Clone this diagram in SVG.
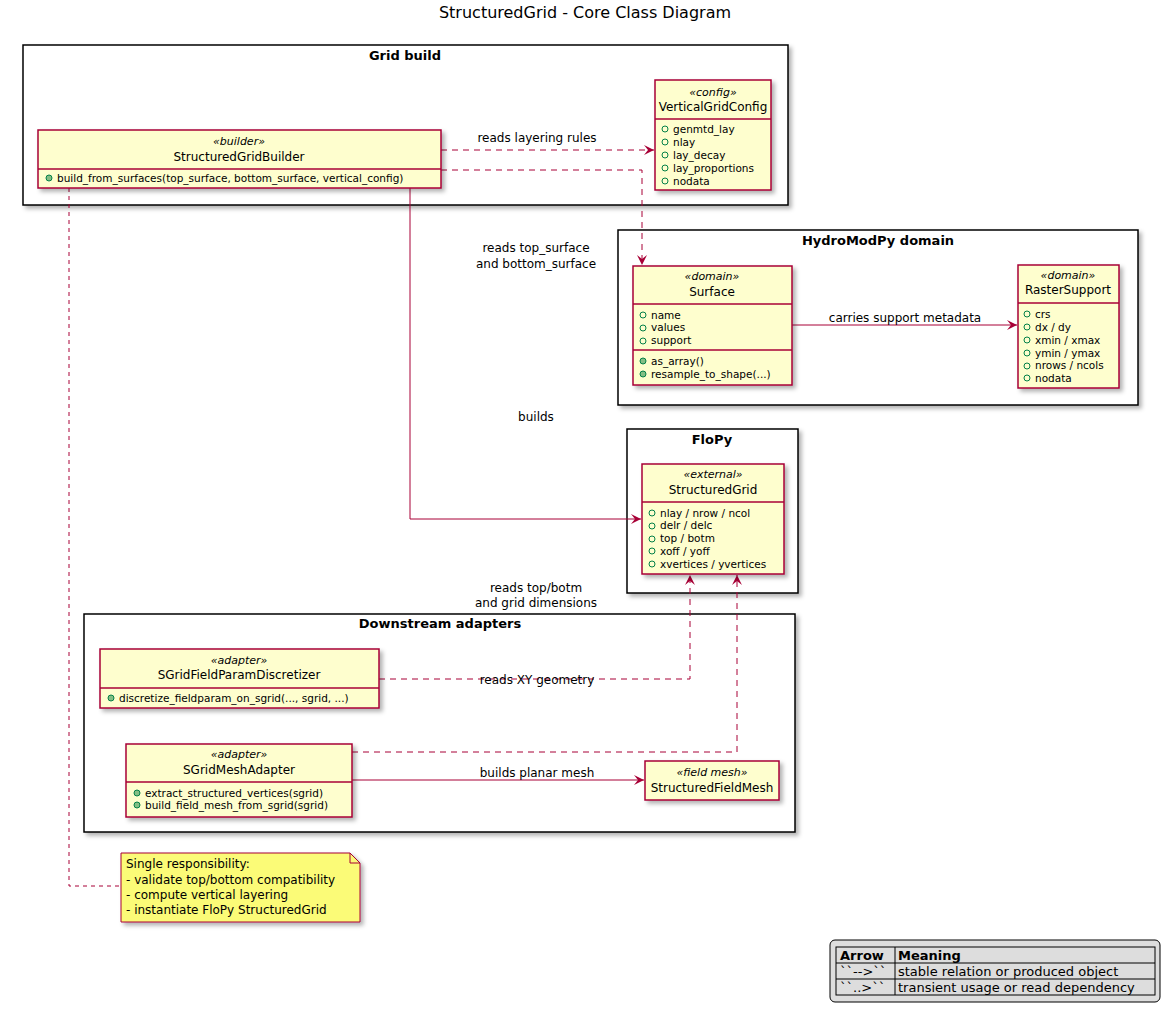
<svg xmlns="http://www.w3.org/2000/svg" width="1171" height="1013" viewBox="0 0 1171 1013">
<defs>
<filter id="sh" x="-10%" y="-10%" width="130%" height="130%"><feDropShadow dx="3" dy="3" stdDeviation="2" flood-color="#000" flood-opacity="0.3"/></filter>
<marker id="ah" viewBox="0 0 12 12" refX="11" refY="6" markerWidth="12" markerHeight="12" markerUnits="userSpaceOnUse" orient="auto"><path d="M1,1 L11,6 L1,11 L5,6 Z" fill="#A80036"/></marker>
</defs>
<style>
text{font-family:"DejaVu Sans",sans-serif;fill:#000}
.pkg{fill:#fff;stroke:#000;stroke-width:1.5;filter:url(#sh)}
.pt{font-size:13px;font-weight:bold;text-anchor:middle}
.cls{fill:#FEFECE;stroke:#A80036;stroke-width:1.5;filter:url(#sh)}
.dv{stroke:#A80036;stroke-width:1.5}
.st{font-size:11px;font-style:italic;text-anchor:middle}
.nm{font-size:12px;text-anchor:middle}
.mb{font-size:10.5px}
.lb{font-size:12px;text-anchor:middle}
.c{fill:none;stroke:#A80036;stroke-width:1}
.d{stroke-dasharray:6,5}
.o{fill:none;stroke:#038048;stroke-width:1}
.f{fill:#84BE84;stroke:#038048;stroke-width:1}
</style>
<text x="585" y="18" font-size="16" text-anchor="middle">StructuredGrid - Core Class Diagram</text>

<g id="pkg-gridbuild"><rect class="pkg" x="23" y="45" width="765" height="160"/><text class="pt" x="405" y="60">Grid build</text></g>
<g id="pkg-hydro"><rect class="pkg" x="618" y="230" width="520" height="175"/><text class="pt" x="878" y="245">HydroModPy domain</text></g>
<g id="pkg-flopy"><rect class="pkg" x="627" y="429" width="171" height="164"/><text class="pt" x="712" y="444">FloPy</text></g>
<g id="pkg-down"><rect class="pkg" x="84" y="614" width="711" height="218"/><text class="pt" x="440" y="628">Downstream adapters</text></g>

<g id="connectors">
<path class="c d" d="M441,150 H654" marker-end="url(#ah)"/>
<text class="lb" x="537" y="142">reads layering rules</text>
<path class="c d" d="M441,170 H642 V265" marker-end="url(#ah)"/>
<text class="lb" x="536" y="252">reads top_surface</text>
<text class="lb" x="536" y="268">and bottom_surface</text>
<path class="c" d="M792,325 H1017" marker-end="url(#ah)"/>
<text class="lb" x="905" y="322">carries support metadata</text>
<path class="c" d="M410,188 V519 H641" marker-end="url(#ah)"/>
<text class="lb" x="536" y="421">builds</text>
<path class="c d" d="M379,679 H690 V575" marker-end="url(#ah)"/>
<text class="lb" x="536" y="592">reads top/botm</text>
<text class="lb" x="536" y="607">and grid dimensions</text>
<text class="lb" x="537" y="684">reads XY geometry</text>
<path class="c d" d="M352,752 H737 V575" marker-end="url(#ah)"/>
<path class="c" d="M352,780 H644" marker-end="url(#ah)"/>
<text class="lb" x="537" y="777">builds planar mesh</text>
<path class="c d" d="M69,188 V886 H121" style="stroke:#A80036;stroke-dasharray:4,4"/>
</g>

<g id="StructuredGridBuilder">
<rect class="cls" x="38" y="130" width="403" height="58"/>
<line class="dv" x1="38" y1="169" x2="441" y2="169"/>
<text class="st" x="239" y="145">«builder»</text>
<text class="nm" x="239" y="161">StructuredGridBuilder</text>
<circle class="f" cx="49" cy="178" r="3"/><text class="mb" x="57" y="182">build_from_surfaces(top_surface, bottom_surface, vertical_config)</text>
</g>

<g id="VerticalGridConfig">
<rect class="cls" x="655" y="80" width="116" height="110"/>
<line class="dv" x1="655" y1="119" x2="771" y2="119"/>
<text class="st" x="713" y="96">«config»</text>
<text class="nm" x="713" y="111">VerticalGridConfig</text>
<circle class="o" cx="665" cy="129" r="3"/><text class="mb" x="673" y="133">genmtd_lay</text>
<circle class="o" cx="665" cy="142" r="3"/><text class="mb" x="673" y="146">nlay</text>
<circle class="o" cx="665" cy="155" r="3"/><text class="mb" x="673" y="159">lay_decay</text>
<circle class="o" cx="665" cy="168" r="3"/><text class="mb" x="673" y="172">lay_proportions</text>
<circle class="o" cx="665" cy="181" r="3"/><text class="mb" x="673" y="185">nodata</text>
</g>

<g id="Surface">
<rect class="cls" x="633" y="266" width="159" height="119"/>
<line class="dv" x1="633" y1="304" x2="792" y2="304"/>
<line class="dv" x1="633" y1="350" x2="792" y2="350"/>
<text class="st" x="712" y="280">«domain»</text>
<text class="nm" x="712" y="296">Surface</text>
<circle class="o" cx="643" cy="315" r="3"/><text class="mb" x="651" y="319">name</text>
<circle class="o" cx="643" cy="328" r="3"/><text class="mb" x="651" y="331">values</text>
<circle class="o" cx="643" cy="341" r="3"/><text class="mb" x="651" y="344">support</text>
<circle class="f" cx="643" cy="361" r="3"/><text class="mb" x="651" y="365">as_array()</text>
<circle class="f" cx="643" cy="374" r="3"/><text class="mb" x="651" y="378">resample_to_shape(...)</text>
</g>

<g id="RasterSupport">
<rect class="cls" x="1018" y="265" width="101" height="123"/>
<line class="dv" x1="1018" y1="303" x2="1119" y2="303"/>
<text class="st" x="1068" y="279">«domain»</text>
<text class="nm" x="1068" y="294">RasterSupport</text>
<circle class="o" cx="1007" cy="0" r="0"/>
<circle class="o" cx="1027" cy="314" r="3"/><text class="mb" x="1035" y="318">crs</text>
<circle class="o" cx="1027" cy="327" r="3"/><text class="mb" x="1035" y="331">dx / dy</text>
<circle class="o" cx="1027" cy="340" r="3"/><text class="mb" x="1035" y="344">xmin / xmax</text>
<circle class="o" cx="1027" cy="353" r="3"/><text class="mb" x="1035" y="357">ymin / ymax</text>
<circle class="o" cx="1027" cy="366" r="3"/><text class="mb" x="1035" y="369">nrows / ncols</text>
<circle class="o" cx="1027" cy="378" r="3"/><text class="mb" x="1035" y="382">nodata</text>
</g>

<g id="StructuredGrid">
<rect class="cls" x="642" y="464" width="142" height="110"/>
<line class="dv" x1="642" y1="502" x2="784" y2="502"/>
<text class="st" x="713" y="478">«external»</text>
<text class="nm" x="713" y="494">StructuredGrid</text>
<circle class="o" cx="652" cy="513" r="3"/><text class="mb" x="660" y="517">nlay / nrow / ncol</text>
<circle class="o" cx="652" cy="526" r="3"/><text class="mb" x="660" y="529">delr / delc</text>
<circle class="o" cx="652" cy="539" r="3"/><text class="mb" x="660" y="542">top / botm</text>
<circle class="o" cx="652" cy="551" r="3"/><text class="mb" x="660" y="555">xoff / yoff</text>
<circle class="o" cx="652" cy="564" r="3"/><text class="mb" x="660" y="568">xvertices / yvertices</text>
</g>

<g id="SGridFieldParamDiscretizer">
<rect class="cls" x="100" y="649" width="279" height="59"/>
<line class="dv" x1="100" y1="688" x2="379" y2="688"/>
<text class="st" x="239" y="664">«adapter»</text>
<text class="nm" x="239" y="679">SGridFieldParamDiscretizer</text>
<circle class="f" cx="111" cy="698" r="3"/><text class="mb" x="119" y="702">discretize_fieldparam_on_sgrid(..., sgrid, ...)</text>
</g>

<g id="SGridMeshAdapter">
<rect class="cls" x="126" y="744" width="226" height="73"/>
<line class="dv" x1="126" y1="782" x2="352" y2="782"/>
<text class="st" x="239" y="758">«adapter»</text>
<text class="nm" x="239" y="774">SGridMeshAdapter</text>
<circle class="f" cx="137" cy="793" r="3"/><text class="mb" x="145" y="797">extract_structured_vertices(sgrid)</text>
<circle class="f" cx="137" cy="805" r="3"/><text class="mb" x="145" y="809">build_field_mesh_from_sgrid(sgrid)</text>
</g>

<g id="StructuredFieldMesh">
<rect class="cls" x="645" y="761" width="134" height="39"/>
<text class="st" x="712" y="776">«field mesh»</text>
<text class="nm" x="712" y="792">StructuredFieldMesh</text>
</g>

<g id="note">
<path d="M121,853 H350 L360,863 V922 H121 Z" fill="#FBFB77" stroke="#A80036" stroke-width="1" filter="url(#sh)"/>
<path d="M350,853 V863 H360" fill="none" stroke="#A80036" stroke-width="1"/>
<text font-size="12" x="126" y="868">Single responsibility:</text>
<text font-size="12" x="126" y="884">- validate top/bottom compatibility</text>
<text font-size="12" x="126" y="899">- compute vertical layering</text>
<text font-size="12" x="126" y="914">- instantiate FloPy StructuredGrid</text>
</g>

<g id="legend">
<rect x="830" y="940" width="330" height="62" rx="5" fill="#DDDDDD" stroke="#000" stroke-width="1"/>
<rect x="836" y="947" width="319" height="48" fill="none" stroke="#000" stroke-width="1"/>
<line x1="836" y1="963" x2="1155" y2="963" stroke="#000"/>
<line x1="836" y1="979" x2="1155" y2="979" stroke="#000"/>
<line x1="895" y1="947" x2="895" y2="995" stroke="#000"/>
<text font-size="13" font-weight="bold" x="840" y="960">Arrow</text>
<text font-size="13" font-weight="bold" x="898" y="960">Meaning</text>
<text font-size="13" x="840" y="976">``--&gt;``</text>
<text font-size="13" x="898" y="976">stable relation or produced object</text>
<text font-size="13" x="840" y="992">``..&gt;``</text>
<text font-size="13" x="898" y="992">transient usage or read dependency</text>
</g>
</svg>
